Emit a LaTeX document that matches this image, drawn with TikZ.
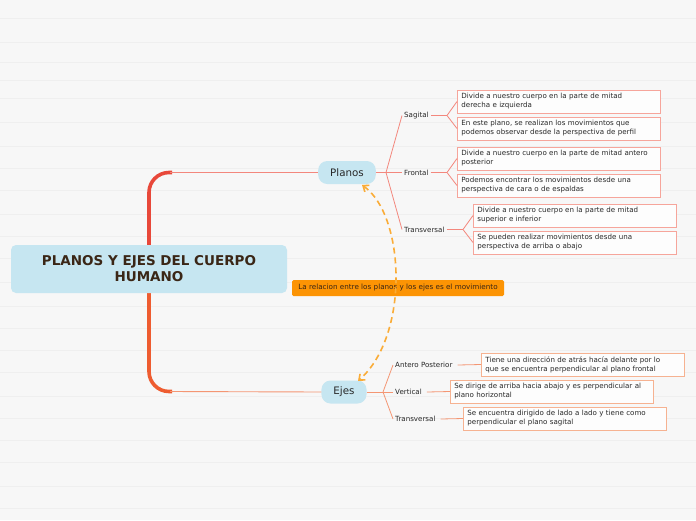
\documentclass[tikz,border=0pt]{standalone}
\usepackage{fontspec}
\setmainfont{DejaVu Sans}
\usetikzlibrary{arrows.meta}
\definecolor{bgc}{RGB}{247,247,247}
\definecolor{bgline}{RGB}{239,239,239}
\definecolor{mainblue}{RGB}{198,230,241}
\definecolor{titlec}{RGB}{58,38,22}
\definecolor{spinetop}{RGB}{232,72,58}
\definecolor{spinebot}{RGB}{238,92,48}
\definecolor{pbranch}{RGB}{243,135,125}
\definecolor{pbox}{RGB}{246,165,155}
\definecolor{ebranch}{RGB}{244,150,115}
\definecolor{ebox}{RGB}{246,178,145}
\definecolor{relfill}{RGB}{252,148,4}
\definecolor{dashc}{RGB}{250,172,55}
\definecolor{txt}{RGB}{40,40,40}
\tikzset{
  pill/.style={rounded corners=9pt, fill=mainblue, minimum height=23pt, inner xsep=12pt, font=\fontsize{10.3}{12}\selectfont, text=txt},
  lbl/.style={anchor=west, inner xsep=2pt, inner ysep=1pt, font=\fontsize{7.1}{8}\selectfont, text=txt},
  infobox/.style={draw=#1, line width=0.8pt, fill=white!70!bgc, anchor=west, minimum height=23pt, text width=195pt, inner xsep=4pt, inner ysep=2pt, align=left, font=\fontsize{7.1}{9}\selectfont, text=txt},
  pline/.style={draw=pbranch, line width=0.8pt},
  eline/.style={draw=ebranch, line width=0.8pt},
}
\begin{document}
\begin{tikzpicture}[x=1pt,y=-1pt]
\useasboundingbox (0,0) rectangle (696,520);
\fill[bgc] (0,0) rectangle (696,520);
\foreach \yy in {18,42,62,80,98,122,146,168,190,214,236,258,282,306,328,350,372,396,418,440,462,486,508}
  \draw[bgline, line width=0.5pt] (0,\yy) -- (696,\yy);

% spine
\draw[spinetop, line width=3.6pt, rounded corners=20pt] (172,172.5) -- (149,172.5) -- (149,282);
\draw[spinebot, line width=3.6pt, rounded corners=20pt] (149,280) -- (149,391.5) -- (172,391.5);

% main node
\node[fill=mainblue, rounded corners=5pt, minimum width=276pt, minimum height=48pt, align=center,
  font=\fontsize{13.5}{16}\selectfont\bfseries, text=titlec] (main) at (149,269) {PLANOS Y EJES DEL CUERPO\\HUMANO};

% main branches
\node[pill] (planos) at (347,172.5) {Planos};
\node[pill] (ejes) at (344,392) {Ejes};
\draw[pbranch, line width=0.9pt] (170,172.5) -- (planos.west);
\draw[ebranch, line width=0.9pt] (170,391.5) -- (ejes.west);

% relation
\node[fill=relfill, rounded corners=1.5pt, minimum width=212pt, minimum height=16pt, inner sep=1pt,
  font=\fontsize{7.2}{8}\selectfont, text=titlec] (rel) at (398,288) {La relacion entre los planos y los ejes es el movimiento};
\draw[dashc, line width=1.6pt, dash pattern=on 6pt off 4pt, {Straight Barb[length=5pt,width=8pt]}-{Straight Barb[length=5pt,width=8pt]}]
  (362,185) .. controls (405,215) and (410,335) .. (358,381);

% Planos sub-branches
\coordinate (pj) at (386,172.5);
\draw[pline] (planos.east) -- (pj);
\node[lbl] (sag) at (402,115.5) {Sagital};
\node[lbl] (fro) at (402,172.5) {Frontal};
\node[lbl] (trP) at (402,229.5) {Transversal};
\draw[pline] (pj) -- (sag.west);
\draw[pline] (pj) -- (fro.west);
\draw[pline] (pj) -- (trP.west);

\node[infobox=pbox] (s1) at (457,101.5) {Divide a nuestro cuerpo en la parte de mitad\\derecha e izquierda};
\node[infobox=pbox] (s2) at (457,128.5) {En este plano, se realizan los movimientos que\\podemos observar desde la perspectiva de perfil};
\node[infobox=pbox] (f1) at (457,158.5) {Divide a nuestro cuerpo en la parte de mitad antero\\posterior};
\node[infobox=pbox] (f2) at (457,185.5) {Podemos encontrar los movimientos desde una\\perspectiva de cara o de espaldas};
\node[infobox=pbox] (t1) at (473,215.5) {Divide a nuestro cuerpo en la parte de mitad\\superior e inferior};
\node[infobox=pbox] (t2) at (473,242.5) {Se pueden realizar movimientos desde una\\perspectiva de arriba o abajo};

\coordinate (sj) at (447,115.5);
\draw[pline] (sag.east) -- (sj);
\draw[pline] (sj) -- (s1.west);
\draw[pline] (sj) -- (s2.west);
\coordinate (fj) at (447,172.5);
\draw[pline] (fro.east) -- (fj);
\draw[pline] (fj) -- (f1.west);
\draw[pline] (fj) -- (f2.west);
\coordinate (tj) at (463,229.5);
\draw[pline] (trP.east) -- (tj);
\draw[pline] (tj) -- (t1.west);
\draw[pline] (tj) -- (t2.west);

% Ejes sub-branches
\coordinate (ej) at (383,392);
\draw[eline] (ejes.east) -- (ej);
\node[lbl] (ap) at (393,365) {Antero Posterior};
\node[lbl] (ver) at (393,392) {Vertical};
\node[lbl] (trE) at (393,419) {Transversal};
\draw[eline] (ej) -- (ap.west);
\draw[eline] (ej) -- (ver.west);
\draw[eline] (ej) -- (trE.west);

\node[infobox=ebox] (e1) at (481,364.5) {Tiene una dirección de atrás hacía delante por lo\\que se encuentra perpendicular al plano frontal};
\node[infobox=ebox] (e2) at (450,391.5) {Se dirige de arriba hacia abajo y es perpendicular al\\plano horizontal};
\node[infobox=ebox] (e3) at (463,418.5) {Se encuentra dirigido de lado a lado y tiene como\\perpendicular el plano sagital};
\draw[eline] (ap.east) ++(3,0) -- (e1.west);
\draw[eline] (ver.east) ++(3,0) -- (e2.west);
\draw[eline] (trE.east) ++(3,0) -- (e3.west);
\end{tikzpicture}
\end{document}
